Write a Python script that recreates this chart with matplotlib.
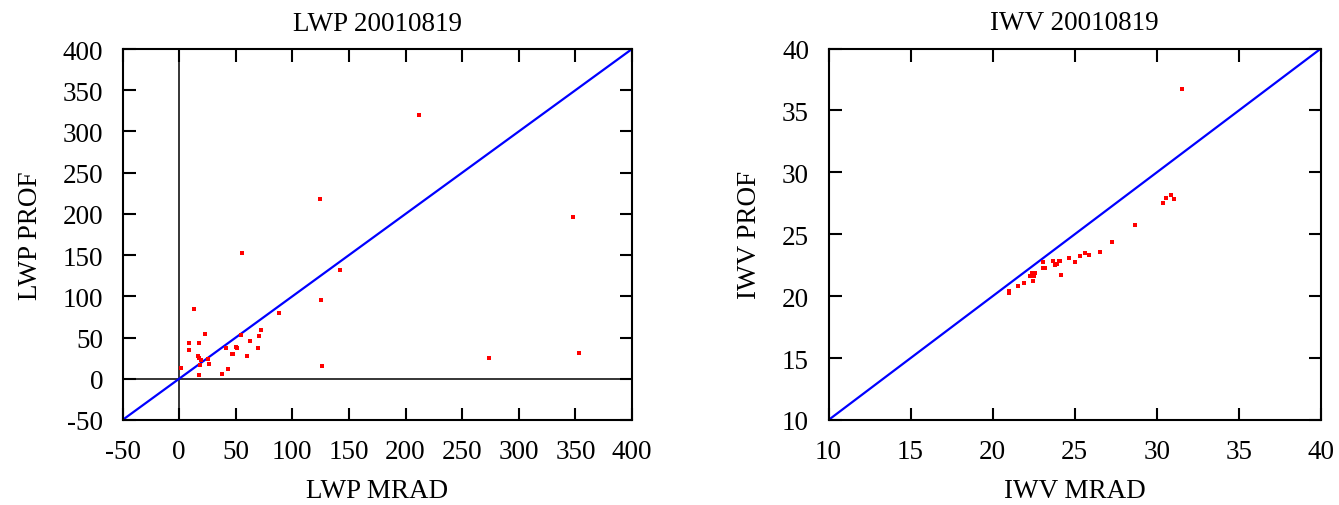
import matplotlib
matplotlib.use("Agg")
import matplotlib.pyplot as plt
import numpy as np

plt.rcParams['font.family'] = ['Liberation Serif', 'DejaVu Serif']
plt.rcParams['axes.unicode_minus'] = False

# LWP values
lwp_mrad = [211.5, 124.1, 348.2, 55.3, 142.0, 125.0, 88.0, 13.2, 273.5, 353.5,
            126.2, 72.0, 70.3, 69.7, 62.6, 55.0, 60.3, 50.3, 50.9, 46.5,
            47.4, 41.5, 43.2, 38.2, 22.6, 17.6, 9.1, 9.1, 16.5, 17.9,
            19.4, 18.5, 25.9, 26.2, 17.6, 1.8]
lwp_prof = [319.8, 218.5, 196.0, 153.0, 131.5, 96.0, 80.0, 84.7, 25.8, 31.5,
            15.7, 59.7, 52.4, 37.5, 45.6, 53.6, 28.2, 38.3, 37.1, 30.2,
            30.2, 37.1, 11.3, 5.2, 54.8, 44.0, 44.0, 35.5, 27.4, 25.4,
            22.6, 17.3, 24.2, 17.7, 4.4, 12.9]

# IWV values
iwv_mrad = [31.52, 30.40, 30.53, 30.87, 31.03, 28.67, 27.27, 26.52, 25.89, 25.61,
            25.32, 25.01, 24.62, 24.18, 24.05, 23.90, 23.80, 23.70, 24.10, 23.17,
            23.04, 23.04, 22.60, 22.40, 22.30, 22.50, 22.47, 21.90, 21.56, 20.97,
            20.97]
iwv_prof = [36.72, 27.50, 27.90, 28.16, 27.81, 25.71, 24.39, 23.60, 23.32, 23.48,
            23.24, 22.75, 23.08, 21.68, 22.80, 22.60, 22.50, 22.80, 22.85, 22.24,
            22.24, 22.72, 21.90, 21.90, 21.65, 21.65, 21.25, 21.03, 20.84, 20.44,
            20.22]

lwp_range = [-50, 400]
lwp_ticks = list(range(-50, 401, 50))
iwv_range = [10, 40]
iwv_ticks = list(range(10, 41, 5))

FS = 19.5

fig = plt.figure(figsize=(13.39, 5.06), dpi=100)
W, H = 1339.0, 506.0
ax1 = fig.add_axes([122.5 / W, 1 - 421 / H, (632 - 122.5) / W, (421 - 50) / H])
ax2 = fig.add_axes([828.5 / W, 1 - 421 / H, (1321 - 828.5) / W, (421 - 49.5) / H])


def style_axes(ax, rng, ticks, title, xlabel, ylabel):
    ax.set_xlim(rng)
    ax.set_ylim(rng)
    ax.set_xticks(ticks)
    ax.set_yticks(ticks)
    ax.tick_params(direction='in', length=9, width=1.5, top=True, right=True,
                   labelsize=FS)
    ax.tick_params(axis='y', pad=14)
    ax.tick_params(axis='x', pad=14)
    for s in ax.spines.values():
        s.set_linewidth(1.5)
    ax.set_title(title, fontsize=FS, pad=14)
    ax.set_xlabel(xlabel, fontsize=FS, labelpad=10)
    ax.set_ylabel(ylabel, fontsize=FS, labelpad=14)
    # 1:1 line
    ax.plot(rng, rng, color='#0000ff', lw=1.6, zorder=2)


style_axes(ax1, lwp_range, lwp_ticks, 'LWP 20010819', 'LWP MRAD', 'LWP PROF')
ax1.axhline(0, color='black', lw=1.1, zorder=1)
ax1.axvline(0, color='black', lw=1.1, zorder=1)
ax1.plot(lwp_mrad, lwp_prof, 's', color='#ff0000', ms=3.5, mew=0, zorder=3)

style_axes(ax2, iwv_range, iwv_ticks, 'IWV 20010819', 'IWV MRAD', 'IWV PROF')
ax2.plot(iwv_mrad, iwv_prof, 's', color='#ff0000', ms=3.5, mew=0, zorder=3)

fig.savefig('out.png', dpi=100)
